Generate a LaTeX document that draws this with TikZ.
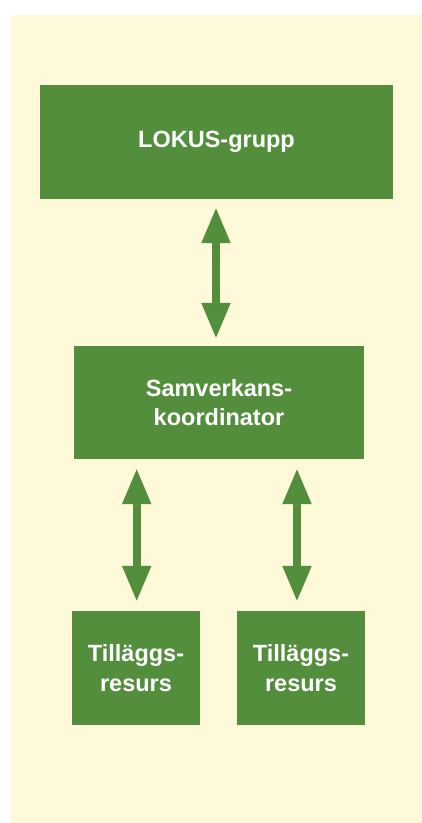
\documentclass[tikz,border=0pt]{standalone}
\usepackage{fontspec}
\setmainfont{Liberation Sans}
\usetikzlibrary{arrows.meta}
\definecolor{bggelb}{RGB}{254,249,216}
\definecolor{boxgreen}{RGB}{83,142,61}
\tikzset{
  box/.style={fill=boxgreen, draw=none, inner sep=0pt, align=center, text=white,
    font=\bfseries\fontsize{23.5}{29.5}\selectfont},
  dbl/.style={draw=boxgreen, line width=8pt,
    {Triangle[length=36pt,width=27pt]}-{Triangle[length=36pt,width=27pt]}}
}
\begin{document}
\begin{tikzpicture}[x=1pt,y=-1pt]
\useasboundingbox (0,0) rectangle (422,823);
\fill[bggelb] (11,15) rectangle (422,823);
\node[box, minimum width=353pt, minimum height=114pt] (lokus) at (216.5,142) {LOKUS-grupp};
\node[box, minimum width=290pt, minimum height=113pt] (samv) at (219,402.5) {Samverkans-\\koordinator};
\node[box, minimum width=128pt, minimum height=114pt] (t1) at (136,668) {Tilläggs-\\resurs};
\node[box, minimum width=128pt, minimum height=114pt] (t2) at (301,668) {Tilläggs-\\resurs};
\draw[dbl, shorten <=8pt, shorten >=7pt] (216,0 |- lokus.south) -- (216,0 |- samv.north);
\draw[dbl, shorten <=9pt, shorten >=9pt] (136.7,0 |- samv.south) -- (136.7,0 |- t1.north);
\draw[dbl, shorten <=9pt, shorten >=9pt] (297,0 |- samv.south) -- (297,0 |- t2.north);
\end{tikzpicture}
\end{document}
